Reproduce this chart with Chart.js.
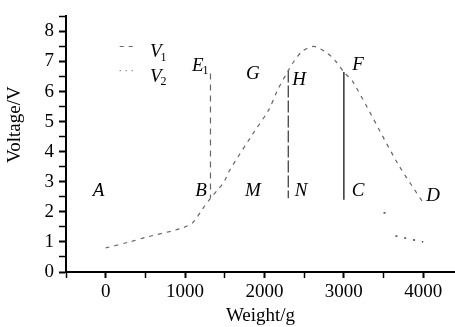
<!DOCTYPE html>
<html>
<head>
<meta charset="utf-8">
<script src="https://cdn.jsdelivr.net/npm/chart.js@4.4.1/dist/chart.umd.min.js"></script>
<style>
    html, body { margin: 0; padding: 0; background: #fff; }
    #wrap { width: 455px; height: 327px; }
</style>
</head>
<body>
<div id="wrap"><canvas id="grafico"></canvas></div>
<script>
/* ================================================
   VOLTAGE vs WEIGHT — scanned figure redraw
   ================================================ */

// ── 1. DATA ──────────────────────────────────────
const v1Weight  = [0, 300, 500, 950, 1100, 1220, 1320, 1410, 1490, 1565, 1855, 2055, 2165, 2300, 2370, 2480, 2620, 2780, 2900, 3000, 3120, 3680, 4000];
const v1Voltage = [0.8, 1.0, 1.15, 1.45, 1.65, 2.1, 2.45, 2.73, 3.0, 3.4, 4.6, 5.4, 6.05, 6.7, 7.0, 7.35, 7.5, 7.3, 7.0, 6.65, 6.3, 3.6, 2.3];

const v2Weight  = [3500, 3600, 3630, 3650, 4000];
const v2Voltage = [1.97, 1.93, null, 1.2, 1.0];

// vertical drops E1→B, H→N, F→C
const dropWeight = [1320, 2300, 3000];
const dropTop    = [6.6, 6.7, 6.65];
const dropBottom = [2.45, 2.45, 2.4];

// point letters
const letterText    = ['A', 'B', 'M', 'N', 'C', 'D', 'E', 'G', 'H', 'F'];
const letterSub     = ['', '', '', '', '', '', '1', '', '', ''];
const letterWeight  = [-90, 1200, 1855, 2460, 3180, 4125, 1160, 1855, 2435, 3180];
const letterVoltage = [2.7, 2.7, 2.7, 2.7, 2.7, 2.53, 6.84, 6.58, 6.38, 6.9];

// legend
const seriesNames = ['1', '2'];
const legendWeight = 630;
const legendVoltage = [7.3, 6.5];

// ticks
const xTickValues = [-500, 0, 500, 1000, 1500, 2000, 2500, 3000, 3500, 4000];
const xLabelled   = [0, 1000, 2000, 3000, 4000];
const yTickValues = [0, 0.5, 1, 1.5, 2, 2.5, 3, 3.5, 4, 4.5, 5, 5.5, 6, 6.5, 7, 7.5, 8, 8.5];
const yLabelled   = [0, 1, 2, 3, 4, 5, 6, 7, 8];

const SERIF = "'Liberation Serif', 'DejaVu Serif', serif";

// ── 2. TEXT PLUGIN ───────────────────────────────
const letrasPlugin = {
    id: 'letras',
    afterDatasetsDraw(chart) {
        const { ctx, scales: { x, y } } = chart;
        ctx.save();
        ctx.fillStyle = '#000';
        ctx.textBaseline = 'middle';

        const italicV = (txt, sub, px, py) => {
            ctx.font = `italic 19px ${SERIF}`;
            ctx.textAlign = 'center';
            ctx.fillText(txt, px, py);
            if (sub) {
                const w = ctx.measureText(txt).width;
                ctx.font = `12px ${SERIF}`;
                ctx.textAlign = 'left';
                ctx.fillText(sub, px + w / 2 - 1, py + 5);
            }
        };

        letterText.forEach((t, i) => {
            italicV(t, letterSub[i], x.getPixelForValue(letterWeight[i]), y.getPixelForValue(letterVoltage[i]));
        });

        // legend entries
        seriesNames.forEach((s, i) => {
            const px = x.getPixelForValue(legendWeight);
            const py = y.getPixelForValue(legendVoltage[i]);
            italicV('V', s, px, py);
            ctx.beginPath();
            ctx.strokeStyle = '#666';
            ctx.lineWidth = 1.2;
            ctx.setLineDash(i === 0 ? [4, 5] : [1, 5]);
            ctx.moveTo(px - 36, py - 6);
            ctx.lineTo(px - 20, py - 6);
            ctx.stroke();
        });
        ctx.setLineDash([]);

        // y axis title
        ctx.font = `19px ${SERIF}`;
        ctx.textAlign = 'center';
        ctx.translate(15, y.getPixelForValue(4.9));
        ctx.rotate(-Math.PI / 2);
        ctx.fillText('Voltage/V', 0, 0);
        ctx.restore();
    }
};

// ── 3. CHART ─────────────────────────────────────
const dropStyles = [
    { borderColor: '#666', borderDash: [6, 5], borderWidth: 1.2 },
    { borderColor: '#444', borderDash: [12, 3], borderWidth: 1.3 },
    { borderColor: '#333', borderDash: [], borderWidth: 1.5 }
];

const datasets = [
    {
        label: 'V1',
        data: v1Weight.map((w, i) => ({ x: w, y: v1Voltage[i] })),
        borderColor: '#666',
        borderWidth: 1.2,
        borderDash: [4, 5],
        pointRadius: 0,
        tension: 0.3
    },
    {
        label: 'V2',
        data: v2Weight.map((w, i) => ({ x: w, y: v2Voltage[i] })),
        borderColor: '#444',
        borderWidth: 1.5,
        borderDash: [2, 7],
        pointRadius: 0,
        spanGaps: false
    },
    ...dropWeight.map((w, i) => ({
        label: 'drop' + i,
        data: [{ x: w, y: dropTop[i] }, { x: w, y: dropBottom[i] }],
        pointRadius: 0,
        ...dropStyles[i]
    }))
];

new Chart(document.getElementById('grafico'), {
    type: 'line',
    data: { datasets },
    options: {
        responsive: true,
        maintainAspectRatio: false,
        animation: false,
        layout: { padding: { top: 13, right: 0, left: 0, bottom: 0 } },
        plugins: {
            legend: { display: false },
            tooltip: { enabled: false }
        },
        scales: {
            x: {
                type: 'linear',
                min: -500,
                max: 4400,
                afterBuildTicks: s => { s.ticks = xTickValues.map(v => ({ value: v })); },
                afterFit: s => { s.height = 55; },
                border: { color: '#000', width: 2 },
                grid: {
                    drawOnChartArea: false,
                    tickLength: 6,
                    tickColor: '#000',
                    tickWidth: c => (c.tick && c.tick.value % 1000 === 0) ? 2 : 1.5
                },
                ticks: {
                    autoSkip: false,
                    maxRotation: 0,
                    padding: 3,
                    color: '#000',
                    font: { family: SERIF, size: 19 },
                    callback: v => xLabelled.includes(v) ? v : ''
                },
                title: {
                    display: true,
                    text: 'Weight/g',
                    color: '#000',
                    padding: 0,
                    font: { family: SERIF, size: 19 }
                }
            },
            y: {
                min: 0,
                max: 8.5,
                afterBuildTicks: s => { s.ticks = yTickValues.map(v => ({ value: v })); },
                afterFit: s => { s.width = 66; },
                border: { color: '#000', width: 2 },
                grid: {
                    drawOnChartArea: false,
                    tickLength: 7,
                    tickColor: '#000',
                    tickWidth: c => (c.tick && Number.isInteger(c.tick.value)) ? 2 : 1.5
                },
                ticks: {
                    autoSkip: false,
                    padding: 5,
                    color: '#000',
                    font: { family: SERIF, size: 19 },
                    callback: v => yLabelled.includes(v) ? v : ''
                }
            }
        }
    },
    plugins: [letrasPlugin]
});
</script>
</body>
</html>
